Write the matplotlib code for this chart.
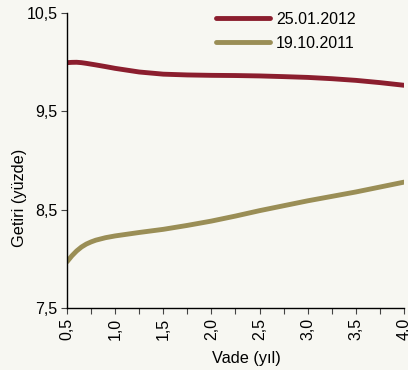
import matplotlib
matplotlib.use("Agg")
import matplotlib.pyplot as plt
from matplotlib.ticker import FixedLocator, MultipleLocator

maturity = [0.5, 0.55, 0.6, 0.65, 0.7, 0.75, 0.8, 0.9, 1.0, 1.25, 1.5, 1.75, 2.0, 2.25, 2.5, 2.75, 3.0, 3.25, 3.5, 3.75, 4.0]
yield_2012 = [9.995, 9.998, 9.999, 9.995, 9.988, 9.98, 9.972, 9.955, 9.937, 9.900, 9.878, 9.870, 9.866, 9.864, 9.860, 9.853, 9.845, 9.832, 9.815, 9.792, 9.765]
yield_2011 = [7.97, 8.03, 8.08, 8.12, 8.15, 8.172, 8.19, 8.215, 8.233, 8.268, 8.30, 8.34, 8.384, 8.435, 8.49, 8.54, 8.59, 8.635, 8.68, 8.73, 8.78]
labels = ["25.01.2012", "19.10.2011"]
colors = ["#8B1E2E", "#9A8E56"]
y_ticks = [7.5, 8.5, 9.5, 10.5]
x_ticks = [0.5, 1.0, 1.5, 2.0, 2.5, 3.0, 3.5, 4.0]

plt.rcParams['font.family'] = ['Liberation Sans', 'DejaVu Sans']
bg = "#F7F7F2"
fig = plt.figure(figsize=(4.08, 3.70), dpi=100, facecolor=bg)
ax = fig.add_axes([67/408, 1 - 308/370, (404-67)/408, (308-13)/370], facecolor=bg)

ax.plot(maturity, yield_2012, color=colors[0], lw=3.5, label=labels[0], solid_capstyle='round', solid_joinstyle='round')
ax.plot(maturity, yield_2011, color=colors[1], lw=3.5, label=labels[1], solid_capstyle='round', solid_joinstyle='round')

ax.set_xlim(0.5, 4.0)
ax.set_ylim(7.5, 10.5)
ax.yaxis.set_major_locator(FixedLocator(y_ticks))
ax.set_yticklabels([f"{v:.1f}".replace('.', ',') for v in y_ticks], fontsize=11.5)
ax.xaxis.set_major_locator(FixedLocator(x_ticks))
ax.xaxis.set_minor_locator(MultipleLocator(0.25))
ax.set_xticklabels([f"{v:.1f}".replace('.', ',') for v in x_ticks], rotation=90, fontsize=11.5)
ax.tick_params(axis='both', which='both', length=4, width=0.8, color='#444444', pad=3)

for s in ['top', 'right']:
    ax.spines[s].set_visible(False)
for s in ['left', 'bottom']:
    ax.spines[s].set_linewidth(1.0)

ax.set_xlabel("Vade (yıl)", fontsize=11.7)
ax.set_ylabel("Getiri (yüzde)", fontsize=11.7)
ax.xaxis.set_label_coords(0.531, -0.146)
ax.yaxis.set_label_coords(-0.119, 0.373)

ax.legend(loc='upper left', bbox_to_anchor=(0.442, 1.005), frameon=False, fontsize=11.5,
          borderpad=0, borderaxespad=0,
          handlelength=3.4, handletextpad=0.35, labelspacing=0.58)

fig.savefig("out.png", dpi=100, facecolor=bg)
